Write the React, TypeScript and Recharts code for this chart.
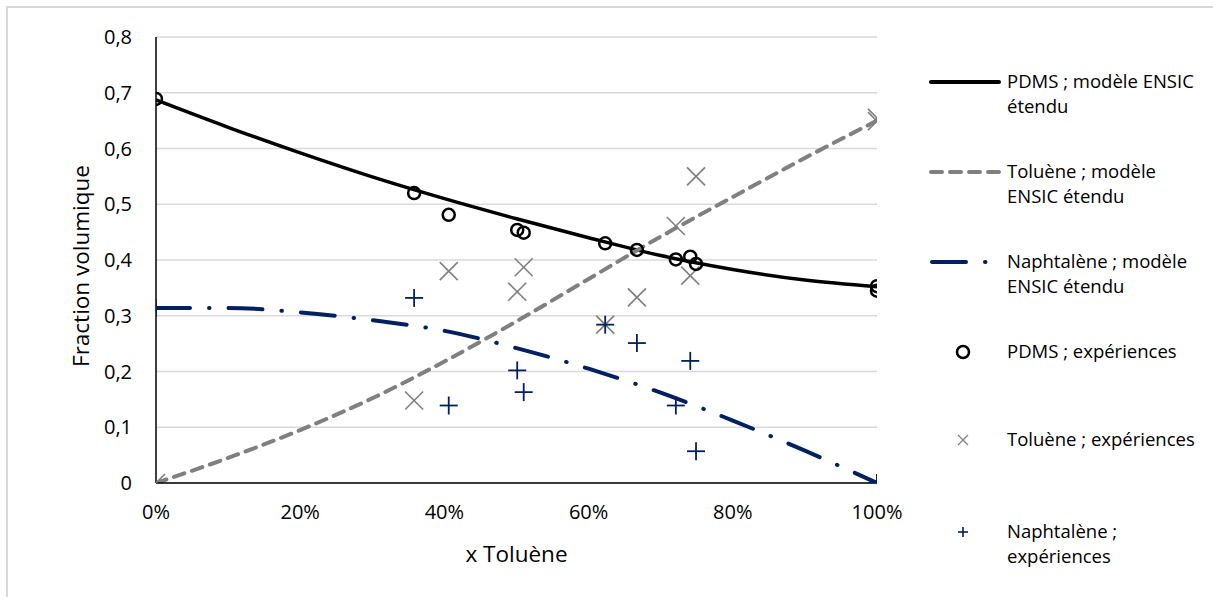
import React from 'react';
import { ComposedChart, Line, Scatter, XAxis, YAxis, CartesianGrid } from 'recharts';

const xTicks = [0, 0.2, 0.4, 0.6, 0.8, 1];
const yTicks = [0, 0.1, 0.2, 0.3, 0.4, 0.5, 0.6, 0.7, 0.8];

const modelX = [0, 0.1, 0.2, 0.3, 0.4, 0.5, 0.6, 0.7, 0.8, 0.9, 1];
const pdmsModel = [0.687, 0.638, 0.592, 0.549, 0.51, 0.474, 0.44, 0.408, 0.383, 0.364, 0.352];
const tolueneModel = [0, 0.045, 0.095, 0.152, 0.218, 0.29, 0.366, 0.442, 0.513, 0.583, 0.65];
const naphModel = [0.314, 0.314, 0.306, 0.292, 0.273, 0.242, 0.205, 0.162, 0.112, 0.058, 0];

const expX = [0, 0.358, 0.406, 0.501, 0.51, 0.623, 0.667, 0.721, 0.741, 0.749, 1, 1];
const pdmsExp = [0.689, 0.52, 0.481, 0.454, 0.449, 0.43, 0.418, 0.401, 0.406, 0.393, 0.353, 0.345];
const tolueneExp = [0, 0.148, 0.38, 0.343, 0.387, 0.284, 0.333, 0.461, 0.372, 0.55, 0.649, 0.655];
const naphExp = [0.314, 0.332, 0.139, 0.202, 0.163, 0.284, 0.251, 0.139, 0.219, 0.057, 0, 0];

const seriesNames = [
  'PDMS ; modèle ENSIC étendu',
  'Toluène ; modèle ENSIC étendu',
  'Naphtalène ; modèle ENSIC étendu',
  'PDMS ; expériences',
  'Toluène ; expériences',
  'Naphtalène ; expériences',
];
const legendLines = [
  ['PDMS ; modèle ENSIC', 'étendu'],
  ['Toluène ; modèle', 'ENSIC étendu'],
  ['Naphtalène ; modèle', 'ENSIC étendu'],
  ['PDMS ; expériences'],
  ['Toluène ; expériences'],
  ['Naphtalène ;', 'expériences'],
];
const xTitle = 'x Toluène';
const yTitle = 'Fraction volumique';

const NAVY = '#002060';
const GRAY = '#808080';
const FONT = '"Open Sans", sans-serif';
const TICK_FS = 20;
const TITLE_FS = 22.5;

const toPts = (xs: number[], ys: number[]) => xs.map((x, i) => ({ x, y: ys[i] }));

const CircleShape = (p: any) => (
  <circle cx={p.cx} cy={p.cy} r={6} fill="none" stroke="#000" strokeWidth={2.5} />
);
const CrossShape = (p: any) => {
  const s = 9;
  return (
    <g stroke={GRAY} strokeWidth={1.6}>
      <line x1={p.cx - s} y1={p.cy - s} x2={p.cx + s} y2={p.cy + s} />
      <line x1={p.cx - s} y1={p.cy + s} x2={p.cx + s} y2={p.cy - s} />
    </g>
  );
};
const PlusShape = (p: any) => {
  const s = 9;
  return (
    <g stroke={NAVY} strokeWidth={1.8}>
      <line x1={p.cx - s} y1={p.cy} x2={p.cx + s} y2={p.cy} />
      <line x1={p.cx} y1={p.cy - s} x2={p.cx} y2={p.cy + s} />
    </g>
  );
};

const XTick = (p: any) => (
  <text x={p.x} y={p.y + 14} textAnchor="middle" dy="0.71em" fontFamily={FONT} fontSize={TICK_FS} fill="#000">
    {`${Math.round(p.payload.value * 100)}%`}
  </text>
);
const YTick = (p: any) => {
  const v = p.payload.value;
  return (
    <text x={p.x - 16} y={p.y} textAnchor="end" dy="0.35em" fontFamily={FONT} fontSize={TICK_FS} fill="#000">
      {v === 0 ? '0' : v.toFixed(1).replace('.', ',')}
    </text>
  );
};
const XLabel = (p: any) => {
  const vb = p.viewBox;
  return (
    <text x={vb.x + vb.width / 2} y={554} textAnchor="middle" dy="0.35em" fontFamily={FONT} fontSize={TITLE_FS} fill="#000">
      {xTitle}
    </text>
  );
};
const YLabel = (p: any) => {
  const vb = p.viewBox;
  const cy = vb.y + vb.height / 2 + 6;
  return (
    <text x={81} y={cy} transform={`rotate(-90 81 ${cy})`} textAnchor="middle" dy="0.35em" fontFamily={FONT} fontSize={TITLE_FS} fill="#000">
      {yTitle}
    </text>
  );
};

const legendY = [82, 172, 262, 352, 440, 532];

function LegendBox() {
  return (
    <svg width={313} height={597} style={{ position: 'absolute', left: 900, top: 0 }}>
      {legendLines.map((lines, i) => {
        const y = legendY[i];
        let sample: React.ReactNode = null;
        if (i === 0) sample = <line x1={31} y1={y} x2={99} y2={y} stroke="#000" strokeWidth={4} strokeLinecap="round" />;
        if (i === 1) sample = <line x1={31} y1={y} x2={99} y2={y} stroke={GRAY} strokeWidth={4} strokeLinecap="round" strokeDasharray="11 8" />;
        if (i === 2) sample = <line x1={32} y1={y} x2={99} y2={y} stroke={NAVY} strokeWidth={4} strokeLinecap="round" strokeDasharray="34 19 0.5 19" />;
        if (i === 3) sample = <CircleShape cx={63} cy={y} />;
        if (i === 4) sample = (
          <g stroke={GRAY} strokeWidth={1.3}>
            <line x1={58} y1={y - 5} x2={68} y2={y + 5} />
            <line x1={58} y1={y + 5} x2={68} y2={y - 5} />
          </g>
        );
        if (i === 5) sample = (
          <g stroke={NAVY} strokeWidth={1.6}>
            <line x1={58} y1={y} x2={68} y2={y} />
            <line x1={63} y1={y - 5} x2={63} y2={y + 5} />
          </g>
        );
        return (
          <g key={seriesNames[i]}>
            {sample}
            {lines.map((t, j) => (
              <text key={j} x={107} y={y + j * 25} dy="0.35em" fontFamily={FONT} fontSize={18.5} fill="#000">
                {t}
              </text>
            ))}
          </g>
        );
      })}
    </svg>
  );
}

export default function App() {
  return (
    <div style={{ position: 'absolute', left: 0, top: 0, width: 1213, height: 597, background: '#fff', overflow: 'hidden' }}>
      <div style={{ position: 'absolute', left: 6, top: 6, width: 1300, height: 700, borderTop: '2px solid #d9d9d9', borderLeft: '2px solid #d9d9d9' }} />
      <ComposedChart
        width={930}
        height={597}
        margin={{ top: 37, right: 53, bottom: 84, left: 66 }}
        style={{ position: 'absolute', left: 0, top: 0, fontFamily: FONT }}
      >
        <CartesianGrid vertical={false} stroke="#d9d9d9" strokeWidth={1.3} />
        <XAxis
          type="number"
          dataKey="x"
          domain={[0, 1]}
          ticks={xTicks}
          stroke="#000"
          strokeWidth={1.5}
          tickLine={false}
          tick={XTick}
          height={30}
          allowDataOverflow
          label={<XLabel />}
        />
        <YAxis
          type="number"
          domain={[0, 0.8]}
          ticks={yTicks}
          stroke="#000"
          strokeWidth={1.5}
          tickLine={false}
          tick={YTick}
          width={90}
          allowDataOverflow
          label={<YLabel />}
        />
        <Line data={toPts(modelX, pdmsModel)} dataKey="y" name={seriesNames[0]} type="monotone" stroke="#000" strokeWidth={3.5} dot={false} activeDot={false} isAnimationActive={false} />
        <Line data={toPts(modelX, tolueneModel)} dataKey="y" name={seriesNames[1]} type="monotone" stroke={GRAY} strokeWidth={4} strokeDasharray="11 8" strokeLinecap="round" dot={false} activeDot={false} isAnimationActive={false} />
        <Line data={toPts(modelX, naphModel)} dataKey="y" name={seriesNames[2]} type="monotone" stroke={NAVY} strokeWidth={4} strokeDasharray="34 19 0.5 19" strokeLinecap="round" dot={false} activeDot={false} isAnimationActive={false} />
        <Scatter data={toPts(expX, tolueneExp)} dataKey="y" name={seriesNames[4]} shape={CrossShape} isAnimationActive={false} />
        <Scatter data={toPts(expX, naphExp)} dataKey="y" name={seriesNames[5]} shape={PlusShape} isAnimationActive={false} />
        <Scatter data={toPts(expX, pdmsExp)} dataKey="y" name={seriesNames[3]} shape={CircleShape} isAnimationActive={false} />
      </ComposedChart>
      <LegendBox />
    </div>
  );
}
